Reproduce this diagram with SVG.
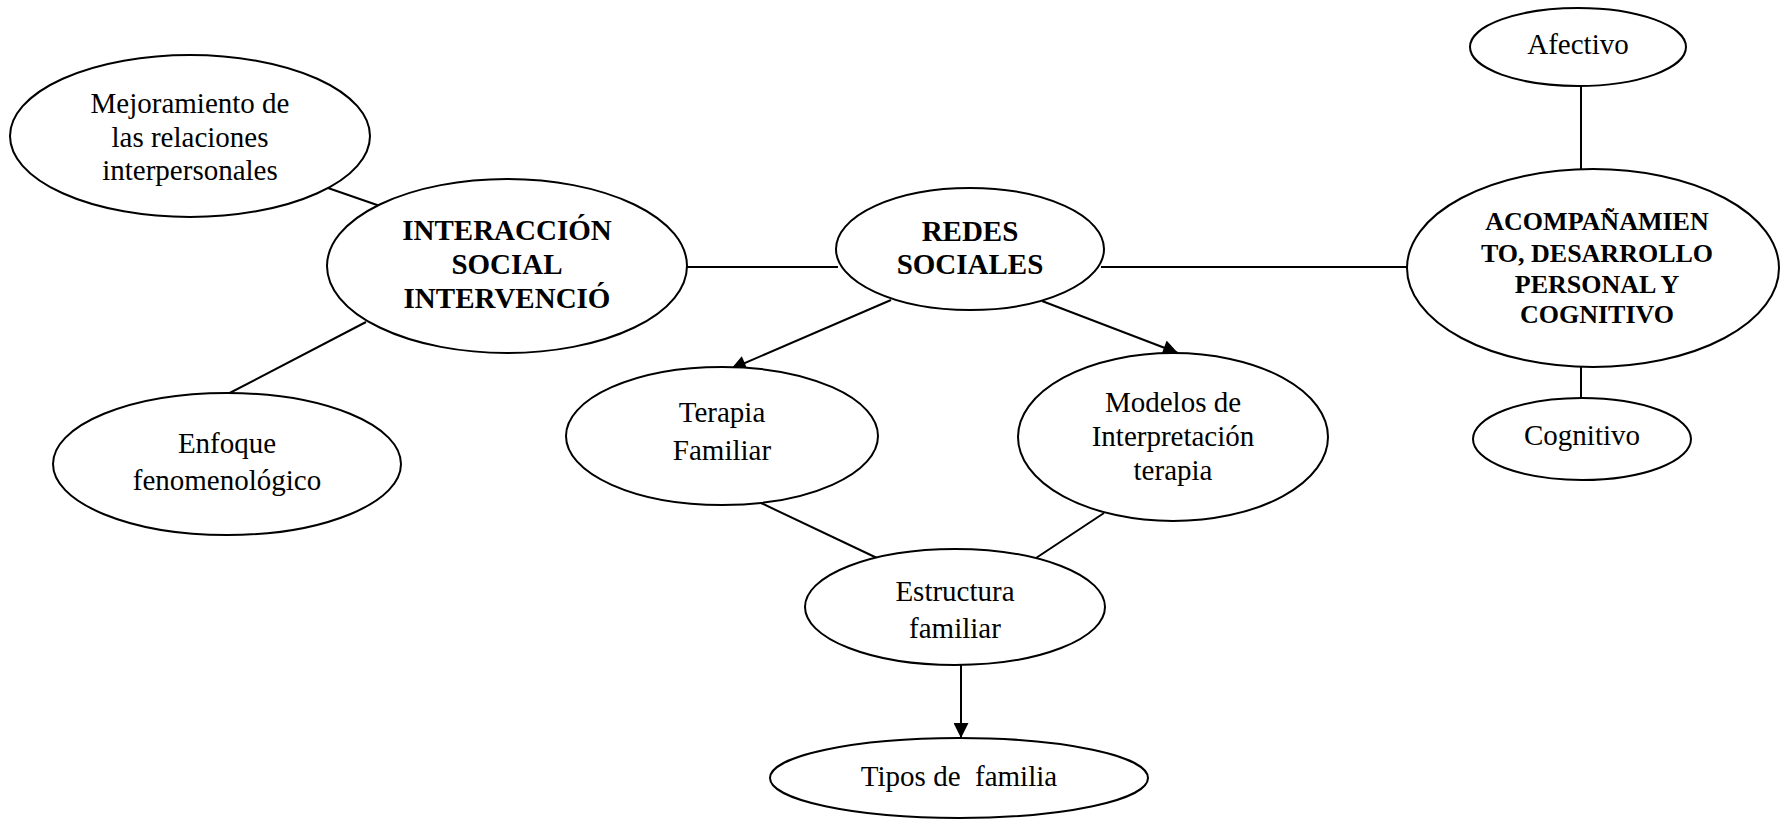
<svg xmlns="http://www.w3.org/2000/svg" width="1780" height="820" viewBox="0 0 1780 820">
<style>
.n{fill:#fff;stroke:#000;stroke-width:2}
.t{font-family:"Liberation Serif","Times New Roman",serif;font-size:29px;fill:#000;text-anchor:middle}
.b{font-weight:bold}
.s{font-size:26px}
.c line{stroke:#000;stroke-width:2}
</style>
<defs>
<marker id="ah" viewBox="0 0 10 10" refX="10" refY="5" markerWidth="17" markerHeight="15" markerUnits="userSpaceOnUse" orient="auto">
<path d="M0,0 L10,5 L0,10 Z" fill="#000"/>
</marker>
</defs>
<rect width="1780" height="820" fill="#fff"/>
<g class="c">
<line x1="328" y1="188" x2="380" y2="206"/>
<line x1="366" y1="322" x2="220" y2="398"/>
<line x1="687" y1="267" x2="838" y2="267"/>
<line x1="1101" y1="267" x2="1407" y2="267"/>
<line x1="891" y1="300" x2="731" y2="369" marker-end="url(#ah)"/>
<line x1="1042" y1="301" x2="1178" y2="353" marker-end="url(#ah)"/>
<line x1="761" y1="503" x2="877" y2="558"/>
<line x1="1104" y1="513" x2="1036" y2="558"/>
<line x1="961" y1="665" x2="961" y2="738" marker-end="url(#ah)"/>
<line x1="1581" y1="85" x2="1581" y2="171"/>
<line x1="1581" y1="367" x2="1581" y2="398"/>
</g>
<g id="mejoramiento">
<ellipse class="n" cx="190" cy="136" rx="180" ry="81"/>
<text class="t" x="190" y="113">Mejoramiento de</text>
<text class="t" x="190" y="147">las relaciones</text>
<text class="t" x="190" y="180">interpersonales</text>
</g>
<g id="interaccion">
<ellipse class="n" cx="507" cy="266" rx="180" ry="87"/>
<text class="t b" x="507" y="240">INTERACCIÓN</text>
<text class="t b" x="507" y="274">SOCIAL</text>
<text class="t b" x="507" y="308">INTERVENCIÓ</text>
</g>
<g id="enfoque">
<ellipse class="n" cx="227" cy="464" rx="174" ry="71"/>
<text class="t" x="227" y="453">Enfoque</text>
<text class="t" x="227" y="490">fenomenológico</text>
</g>
<g id="redes">
<ellipse class="n" cx="970" cy="249" rx="134" ry="61"/>
<text class="t b" x="970" y="241">REDES</text>
<text class="t b" x="970" y="274">SOCIALES</text>
</g>
<g id="terapia">
<ellipse class="n" cx="722" cy="436" rx="156" ry="69"/>
<text class="t" x="722" y="422">Terapia</text>
<text class="t" x="722" y="460">Familiar</text>
</g>
<g id="modelos">
<ellipse class="n" cx="1173" cy="437" rx="155" ry="84"/>
<text class="t" x="1173" y="412">Modelos de</text>
<text class="t" x="1173" y="446">Interpretación</text>
<text class="t" x="1173" y="480">terapia</text>
</g>
<g id="estructura">
<ellipse class="n" cx="955" cy="607" rx="150" ry="58"/>
<text class="t" x="955" y="601">Estructura</text>
<text class="t" x="955" y="638">familiar</text>
</g>
<g id="tipos">
<ellipse class="n" cx="959" cy="778" rx="189" ry="40"/>
<text class="t" x="959" y="786" xml:space="preserve">Tipos de  familia</text>
</g>
<g id="afectivo">
<ellipse class="n" cx="1578" cy="47" rx="108" ry="39"/>
<text class="t" x="1578" y="54">Afectivo</text>
</g>
<g id="acompanamiento">
<ellipse class="n" cx="1593" cy="268" rx="186" ry="99"/>
<text class="t b s" x="1597" y="230">ACOMPAÑAMIEN</text>
<text class="t b s" x="1597" y="262">TO, DESARROLLO</text>
<text class="t b s" x="1597" y="293">PERSONAL Y</text>
<text class="t b s" x="1597" y="323">COGNITIVO</text>
</g>
<g id="cognitivo">
<ellipse class="n" cx="1582" cy="439" rx="109" ry="41"/>
<text class="t" x="1582" y="445">Cognitivo</text>
</g>
</svg>
